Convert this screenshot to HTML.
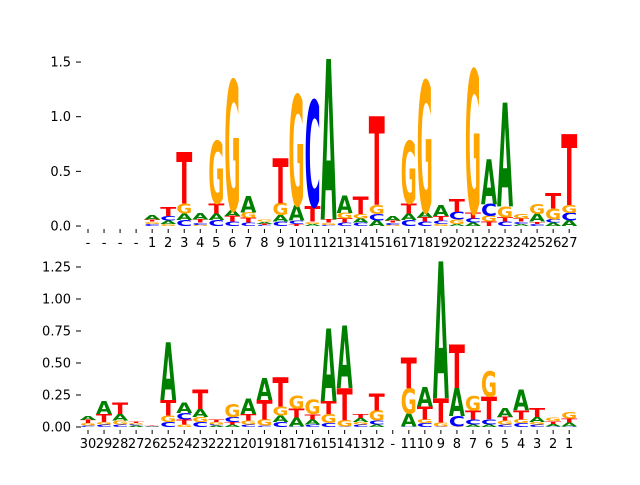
<!DOCTYPE html>
<html><head><meta charset="utf-8"><style>
html,body{margin:0;padding:0;background:#fff;}
svg text.lbl{font-family:"DejaVu Sans","Liberation Sans",sans-serif;font-size:13px;fill:#000;}
</style></head><body>
<svg id="chart" width="640" height="480" xmlns="http://www.w3.org/2000/svg"></svg>
<script>
// Top panel data (31 positions)
const topLabels = ["-","-","-","-","1","2","3","4","5","6","7","8","9","10","11","12","13","14","15","16","17","18","19","20","21","22","23","24","25","26","27"];
const topA = [0,0,0,0,0.04,0.03,0.06,0.06,0.06,0.055,0.15,0.02,0.06,0.14,0.02,1.47,0.16,0.04,0.05,0.04,0.06,0.05,0.10,0.02,0.03,0.41,0.95,0.02,0.07,0.03,0.05];
const topC = [0,0,0,0,0.02,0.04,0.055,0.02,0.055,0.04,0.03,0.01,0.04,0.03,0.97,0.01,0.03,0.03,0.06,0.02,0.055,0.04,0.03,0.07,0.04,0.11,0.04,0.02,0.02,0.03,0.07];
const topG = [0,0,0,0,0.02,0.02,0.09,0.01,0.57,1.19,0.05,0.02,0.11,1.01,0.02,0.02,0.05,0.04,0.08,0.01,0.57,1.20,0.02,0.04,1.31,0.05,0.10,0.04,0.09,0.10,0.07];
const topT = [0,0,0,0,0.02,0.08,0.47,0.03,0.09,0.05,0.045,0.01,0.41,0.02,0.14,0.03,0.04,0.16,0.81,0.02,0.09,0.04,0.04,0.12,0.05,0.04,0.04,0.03,0.02,0.14,0.65];
const topTicks = [0,0.5,1.0,1.5];
const topTickLabels = ["0.0","0.5","1.0","1.5"];
// Bottom panel data
const botLabels = ["30","29","28","27","26","25","24","23","22","21","20","19","18","17","16","15","14","13","12","-","11","10","9","8","7","6","5","4","3","2","1"];
const botA = [0.03,0.10,0.05,0.01,0.003,0.45,0.08,0.06,0.01,0.02,0.12,0.17,0.05,0.07,0.04,0.57,0.49,0.03,0.02,0,0.10,0.15,1.07,0.22,0.02,0.02,0.07,0.16,0.04,0.02,0.03];
const botC = [0.01,0.02,0.02,0.01,0.002,0.04,0.05,0.04,0.01,0.04,0.02,0.01,0.04,0.005,0.02,0.03,0.005,0.02,0.03,0,0.005,0.03,0.005,0.08,0.04,0.04,0.02,0.03,0.02,0.005,0.005];
const botG = [0.02,0.02,0.03,0.01,0.002,0.05,0.02,0.04,0.02,0.10,0.03,0.05,0.07,0.10,0.11,0.07,0.05,0.02,0.08,0,0.20,0.03,0.03,0.005,0.11,0.20,0.03,0.03,0.02,0.025,0.05];
const botT = [0.025,0.06,0.09,0.01,0.003,0.12,0.04,0.15,0.02,0.02,0.05,0.15,0.23,0.07,0.04,0.10,0.25,0.03,0.13,0,0.24,0.10,0.19,0.34,0.07,0.18,0.03,0.07,0.07,0.02,0.03];
const botTicks = [0,0.25,0.5,0.75,1.0,1.25];
const botTickLabels = ["0.00","0.25","0.50","0.75","1.00","1.25"];

const NS="http://www.w3.org/2000/svg";
const svg=document.getElementById('chart');
const colors={A:"#008000",C:"#0000ff",G:"#ffa500",T:"#ff0000"};
function xPos(i){return 88+16.04*i;}
function mk(tag,attrs,parent){const e=document.createElementNS(NS,tag);for(const k in attrs)e.setAttribute(k,attrs[k]);(parent||svg).appendChild(e);return e;}

function panel(name,y0,unit,labels,A,C,G,T,ticks,tickLabels){
  const g=mk('g',{});
  
  
  const yS=v=>y0-v*unit;
  ticks.forEach((t,k)=>{
    mk('line',{x1:76,x2:81,y1:yS(t),y2:yS(t),stroke:'#000','stroke-width':1},g);
    const tx=mk('text',{x:71,y:yS(t)+4.5,'text-anchor':'end',class:'lbl'},g);
    tx.textContent=tickLabels[k];
    
    
  });
  labels.forEach((lab,i)=>{
    const x=xPos(i);
    mk('line',{x1:x,x2:x,y1:y0+3,y2:y0+7,stroke:'#000','stroke-width':1},g);
    const tx=mk('text',{x:x,y:y0+21,'text-anchor':'middle',class:'lbl'},g);
    tx.textContent=lab;
    
    
    const items=[['A',A[i]],['C',C[i]],['G',G[i]],['T',T[i]]].filter(d=>d[1]>0).sort((a,b)=>a[1]-b[1]);
    let base=0;
    items.forEach(([L,h])=>{
      const yb=yS(base), hp=h*unit, w=16;
      const t=mk('text',{x:0,y:0,'font-family':'DejaVu Sans, Liberation Sans, sans-serif','font-weight':'bold','font-size':100,fill:colors[L],textLength:72,lengthAdjust:'spacingAndGlyphs',transform:`translate(${x-w/2},${yb}) scale(${w/72},${hp/73})`},g);
      t.textContent=L;
      
      
      base+=h;
    });
  });
}
panel('top-logo-panel',226,109.3,topLabels,topA,topC,topG,topT,topTicks,topTickLabels);
panel('bottom-logo-panel',427,128,botLabels,botA,botC,botG,botT,botTicks,botTickLabels);
</script>
</body></html>
